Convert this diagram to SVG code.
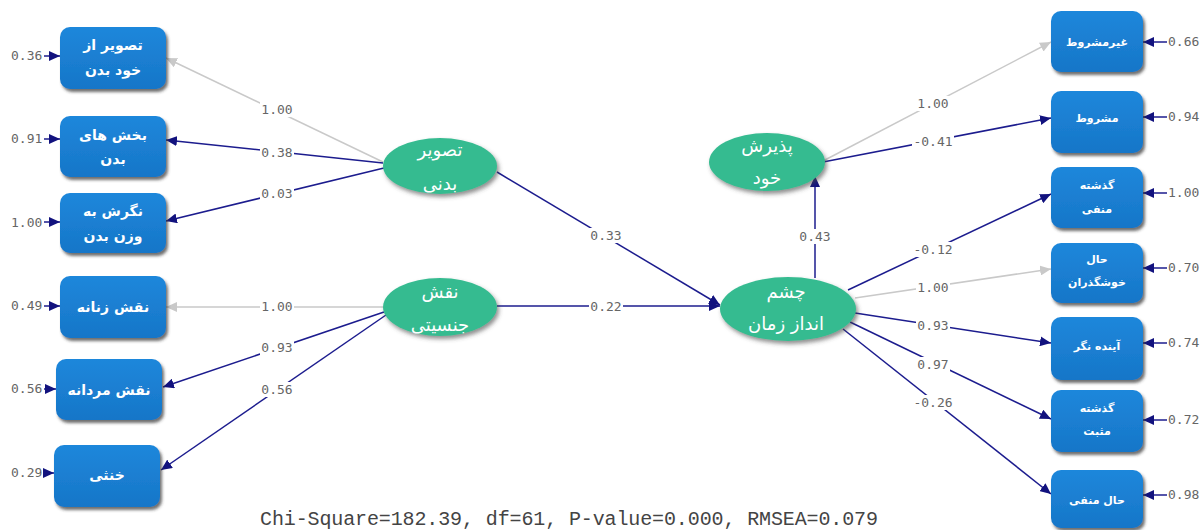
<svg xmlns="http://www.w3.org/2000/svg" width="1203" height="530" viewBox="0 0 1203 530">
<defs>
<style>
.box{fill:url(#bg);filter:url(#sh)}
.ell{fill:#36bb90;filter:url(#sh2)}
.bt{font-family:"DejaVu Sans",sans-serif;font-size:14px;font-weight:bold;fill:#fff;text-anchor:middle}
.rt{font-family:"DejaVu Sans",sans-serif;font-size:11px;font-weight:bold;fill:#fff;text-anchor:middle}
.et{font-family:"DejaVu Sans",sans-serif;font-size:18px;fill:#fff;text-anchor:middle}
.n{stroke:#1c1c8e;stroke-width:1.5;fill:none;marker-end:url(#an)}
.g{stroke:#c9c9c9;stroke-width:1.5;fill:none;marker-end:url(#ag)}
.bk{fill:#fff}
.lb{font-family:"DejaVu Sans Mono","Liberation Mono",monospace;font-size:13px;fill:#666;text-anchor:middle}
.er{font-family:"DejaVu Sans Mono","Liberation Mono",monospace;font-size:13px;fill:#666}
.foot{font-family:"Liberation Mono",monospace;font-size:20px;fill:#444}
</style>
<linearGradient id="bg" x1="0" y1="0" x2="0" y2="1">
<stop offset="0" stop-color="#1f87db"/>
<stop offset="1" stop-color="#1676c8"/>
</linearGradient>
<filter id="sh" x="-10%" y="-10%" width="130%" height="130%">
<feDropShadow dx="2" dy="3" stdDeviation="1.5" flood-color="#333" flood-opacity="0.7"/>
</filter>
<filter id="sh2" x="-10%" y="-10%" width="130%" height="130%">
<feDropShadow dx="2" dy="3" stdDeviation="2" flood-color="#444" flood-opacity="0.6"/>
</filter>
<marker id="an" markerUnits="userSpaceOnUse" markerWidth="12" markerHeight="10" refX="11" refY="5" orient="auto">
<path d="M0,0 L11,5 L0,10 Z" fill="#12127e"/>
</marker>
<marker id="ag" markerUnits="userSpaceOnUse" markerWidth="12" markerHeight="10" refX="11" refY="5" orient="auto">
<path d="M0,0 L11,5 L0,10 Z" fill="#c9c9c9"/>
</marker>
</defs>
<rect width="1203" height="530" fill="#fff"/>

<g id="connectors">
<path class="g" d="M383,162 L166,58"/>
<path class="n" d="M383,163 L166,140"/>
<path class="n" d="M384,168 L166,221"/>
<path class="g" d="M383,307 L166,307"/>
<path class="n" d="M384,312 L163,387"/>
<path class="n" d="M386,315 L161,470"/>
<path class="n" d="M497,172 L720,305"/>
<path class="n" d="M497,306 L720,306"/>
<path class="n" d="M815,278 L815,176"/>
<path class="g" d="M823,161 L1051,42"/>
<path class="n" d="M823,162 L1051,118"/>
<path class="n" d="M848,290 L1051,194"/>
<path class="g" d="M855,298 L1051,269"/>
<path class="n" d="M855,313 L1051,343"/>
<path class="n" d="M850,322 L1051,419"/>
<path class="n" d="M843,329 L1051,494"/>
<path class="n" d="M44,56 L60,56"/>
<path class="n" d="M44,139 L60,139"/>
<path class="n" d="M44,222 L60,222"/>
<path class="n" d="M44,306 L60,306"/>
<path class="n" d="M44,389 L56,389"/>
<path class="n" d="M44,473 L54,473"/>
<path class="n" d="M1167,42 L1143,42"/>
<path class="n" d="M1167,117 L1143,117"/>
<path class="n" d="M1167,193 L1143,193"/>
<path class="n" d="M1167,268 L1143,268"/>
<path class="n" d="M1167,343 L1143,343"/>
<path class="n" d="M1167,420 L1143,420"/>
<path class="n" d="M1167,495 L1143,495"/>
<rect class="bk" x="260" y="102" width="34" height="15"/>
<rect class="bk" x="260" y="145" width="34" height="15"/>
<rect class="bk" x="260" y="186" width="34" height="15"/>
<rect class="bk" x="260" y="299" width="34" height="15"/>
<rect class="bk" x="260" y="340" width="34" height="15"/>
<rect class="bk" x="260" y="382" width="34" height="15"/>
<rect class="bk" x="589" y="228" width="34" height="15"/>
<rect class="bk" x="589" y="299" width="34" height="15"/>
<rect class="bk" x="798" y="229" width="34" height="15"/>
<rect class="bk" x="916" y="96" width="34" height="15"/>
<rect class="bk" x="912" y="134" width="42" height="15"/>
<rect class="bk" x="912" y="242" width="42" height="15"/>
<rect class="bk" x="916" y="280" width="34" height="15"/>
<rect class="bk" x="916" y="318" width="34" height="15"/>
<rect class="bk" x="916" y="357" width="34" height="15"/>
<rect class="bk" x="912" y="395" width="42" height="15"/>
<text class="lb" x="277" y="114">1.00</text>
<text class="lb" x="277" y="157">0.38</text>
<text class="lb" x="277" y="198">0.03</text>
<text class="lb" x="277" y="311">1.00</text>
<text class="lb" x="277" y="352">0.93</text>
<text class="lb" x="277" y="394">0.56</text>
<text class="lb" x="606" y="240">0.33</text>
<text class="lb" x="606" y="311">0.22</text>
<text class="lb" x="815" y="241">0.43</text>
<text class="lb" x="933" y="108">1.00</text>
<text class="lb" x="933" y="146">-0.41</text>
<text class="lb" x="933" y="254">-0.12</text>
<text class="lb" x="933" y="292">1.00</text>
<text class="lb" x="933" y="330">0.93</text>
<text class="lb" x="933" y="369">0.97</text>
<text class="lb" x="933" y="407">-0.26</text>
</g>

<g id="errors">
<text class="er" x="11" y="60">0.36</text>
<text class="er" x="11" y="143">0.91</text>
<text class="er" x="11" y="227">1.00</text>
<text class="er" x="11" y="310">0.49</text>
<text class="er" x="11" y="393">0.56</text>
<text class="er" x="11" y="477">0.29</text>
<text class="er" x="1168" y="46">0.66</text>
<text class="er" x="1168" y="121">0.94</text>
<text class="er" x="1168" y="197">1.00</text>
<text class="er" x="1168" y="272">0.70</text>
<text class="er" x="1168" y="347">0.74</text>
<text class="er" x="1168" y="424">0.72</text>
<text class="er" x="1168" y="499">0.98</text>
</g>

<g id="n-tasvir-az-khod"><rect class="box" x="60" y="27" width="106" height="62" rx="10"/><text class="bt" x="113" y="50">تصویر از</text><text class="bt" x="113" y="75">خود بدن</text></g>
<g id="n-bakhsh"><rect class="box" x="60" y="116" width="106" height="61" rx="10"/><text class="bt" x="113" y="140">بخش های</text><text class="bt" x="113" y="164">بدن</text></g>
<g id="n-negaresh"><rect class="box" x="60" y="193" width="106" height="60" rx="10"/><text class="bt" x="113" y="216">نگرش به</text><text class="bt" x="113" y="241">وزن بدن</text></g>
<g id="n-zananeh"><rect class="box" x="60" y="276" width="106" height="62" rx="10"/><text class="bt" x="113" y="312">نقش زنانه</text></g>
<g id="n-mardaneh"><rect class="box" x="56" y="359" width="106" height="61" rx="10"/><text class="bt" x="109" y="395">نقش مردانه</text></g>
<g id="n-khonsa"><rect class="box" x="54" y="445" width="106" height="62" rx="10"/><text class="bt" x="107" y="480">خنثی</text></g>

<g id="n-tasvir-badani"><ellipse class="ell" cx="440" cy="166" rx="57" ry="28"/><text class="et" x="440" y="156">تصویر</text><text class="et" x="440" y="190">بدنی</text></g>
<g id="n-naghsh-jensiati"><ellipse class="ell" cx="440" cy="307" rx="57" ry="29"/><text class="et" x="440" y="298">نقش</text><text class="et" x="440" y="331">جنسیتی</text></g>
<g id="n-paziresh"><ellipse class="ell" cx="767" cy="162" rx="58" ry="29"/><text class="et" x="767" y="152">پذیرش</text><text class="et" x="767" y="184">خود</text></g>
<g id="n-cheshm"><ellipse class="ell" cx="788" cy="309" rx="68" ry="32"/><text class="et" x="786" y="298">چشم</text><text class="et" x="786" y="330">انداز زمان</text></g>

<g id="n-gheyrmashrut"><rect class="box" x="1051" y="11" width="92" height="61" rx="10"/><text class="rt" x="1097" y="46">غیرمشروط</text></g>
<g id="n-mashrut"><rect class="box" x="1051" y="91" width="92" height="62" rx="10"/><text class="rt" x="1097" y="122">مشروط</text></g>
<g id="n-gozashte-manfi"><rect class="box" x="1051" y="167" width="92" height="61" rx="10"/><text class="rt" x="1097" y="189">گذشته</text><text class="rt" x="1097" y="213">منفی</text></g>
<g id="n-hal-khoshgozaran"><rect class="box" x="1051" y="243" width="92" height="60" rx="10"/><text class="rt" x="1097" y="263">حال</text><text class="rt" x="1097" y="286">خوشگذران</text></g>
<g id="n-ayande"><rect class="box" x="1051" y="317" width="92" height="63" rx="10"/><text class="rt" x="1097" y="350">آینده نگر</text></g>
<g id="n-gozashte-mosbat"><rect class="box" x="1051" y="390" width="92" height="62" rx="10"/><text class="rt" x="1097" y="412">گذشته</text><text class="rt" x="1097" y="435">مثبت</text></g>
<g id="n-hal-manfi"><rect class="box" x="1051" y="470" width="92" height="58" rx="10"/><text class="rt" x="1097" y="504">حال منفی</text></g>

<text class="foot" x="260" y="525" textLength="618">Chi-Square=182.39, df=61, P-value=0.000, RMSEA=0.079</text>
</svg>
